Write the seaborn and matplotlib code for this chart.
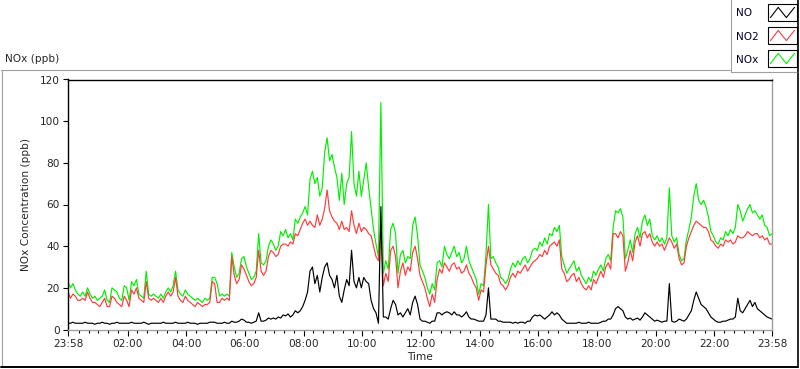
import numpy as np
import pandas as pd
import matplotlib
matplotlib.use("Agg")
import matplotlib.pyplot as plt
import seaborn as sns

# ---------------- data (5-minute samples) ----------------
# minutes after midnight; first sample is 23:58 of the previous day (-2)
minutes = np.arange(-2, 1439, 5)

no = [
    3, 3, 3.5, 3, 3, 3, 3, 3.5, 3, 3, 3, 2.5,
    3, 3, 3.5, 3, 3, 2.5, 3, 3, 3.5, 3, 3, 3,
    3, 3, 3.5, 3, 3, 3, 3, 3.5, 3, 2.5, 3, 3,
    3, 3, 3, 3.5, 3, 3, 3, 3, 3.5, 3, 3, 3,
    3, 3.5, 3, 3, 3, 2.5, 3, 3, 3, 3, 3.5, 3.5,
    3.5, 3, 3, 3, 3.5, 3, 3, 4, 3.5, 3.5, 4, 5,
    4.5, 3.5, 3.5, 3, 3.5, 4, 8, 4, 4, 4.5, 5.5, 5,
    5.5, 5, 6, 5.5, 7, 6.5, 7.5, 6, 7, 9, 8, 9,
    11, 14, 18, 28, 30, 22, 26, 18, 25, 30, 32, 26,
    24, 20, 26, 16, 13, 19, 24, 21, 38, 23, 20, 25,
    20, 25, 23, 22, 14, 10, 8, 3, 59, 6, 6, 5,
    10, 14, 12, 7, 8, 6, 8, 10, 7, 13, 16, 12,
    5, 4, 4, 3.5, 3, 4, 4, 8, 8, 7, 8, 8.5,
    8, 7, 8.5, 7, 7, 6, 7, 8.5, 6, 5, 5, 4.5,
    4, 4, 4, 7, 20, 5, 5, 5, 4, 4, 3.5, 3.5,
    3.5, 3.5, 3, 3.5, 3, 3.5, 3.5, 3, 4, 4, 6, 7,
    6.5, 7, 6, 5, 6, 7, 8.5, 7, 8, 7, 5, 4,
    3, 3, 3, 3, 3, 3.5, 3, 3, 3, 3.5, 3, 3,
    3, 3, 3.5, 4, 4, 5, 5, 7, 10, 11, 10, 9,
    6, 5, 5.5, 4.5, 5, 5.5, 4.5, 6, 8, 7, 6, 5,
    4, 4.5, 4, 3.5, 4, 4, 22, 4, 3.5, 4, 5, 4.5,
    4, 5, 7, 9, 14, 18, 15, 12, 11, 10, 8, 6,
    5, 4, 3.5, 3.5, 4, 4, 4.5, 5, 5, 6, 15, 9,
    8, 10, 12, 14, 11, 13, 10, 9, 8, 7, 6, 5.5,
    5,
]

no2 = [
    18, 15, 17, 16, 14, 14, 15, 14, 18, 15, 13, 13,
    12, 11, 13, 15, 11, 11, 16, 15, 13, 12, 11, 16,
    14, 11, 19, 17, 20, 15, 14, 13, 23, 15, 14, 15,
    14, 13, 15, 13, 16, 18, 16, 18, 25, 16, 14, 13,
    16, 14, 13, 12, 11, 13, 12, 11, 12, 12, 13, 23,
    22, 13, 13, 15, 14, 15, 14, 35, 26, 22, 24, 31,
    29, 26, 23, 21, 22, 25, 38, 28, 26, 28, 35, 38,
    37, 35, 36, 40, 41, 41, 40, 42, 41, 46, 45, 48,
    51, 53, 50, 52, 50, 49, 55, 50, 53, 58, 67, 57,
    54, 52, 51, 48, 52, 48, 49, 47, 57, 50, 46, 51,
    47, 49, 48, 46, 45, 40, 35, 33, 50, 21, 27, 23,
    38, 40, 35, 20, 28, 32, 26, 30, 28, 37, 40, 34,
    26, 23, 20, 15, 11, 17, 13, 24, 29, 27, 32, 30,
    28, 31, 32, 29, 30, 27, 28, 31, 27, 25, 22, 20,
    14, 19, 18, 31, 40, 31, 29, 27, 26, 22, 21, 19,
    21, 25, 27, 25, 28, 27, 29, 31, 28, 30, 32, 33,
    34, 36, 35, 38, 36, 40, 41, 42, 40, 43, 29, 27,
    23, 24, 26, 27, 23, 25, 22, 20, 19, 21, 19, 24,
    22, 25, 28, 25, 30, 32, 29, 46, 46, 44, 47, 45,
    28, 32, 38, 33, 42, 45, 40, 46, 47, 44, 46, 42,
    40, 42, 40, 41, 38, 41, 44, 42, 39, 41, 34, 31,
    32, 40, 44, 47, 50, 52, 51, 50, 49, 49, 47, 43,
    42, 40, 39, 41, 40, 43, 42, 43, 41, 42, 45, 44,
    44, 45, 47, 46, 45, 46, 46, 44, 45, 43, 44, 41,
    41,
]

nox = [
    23, 20, 22, 19, 17, 16, 18, 16, 20, 17, 15, 16,
    14, 15, 16, 19, 14, 13, 20, 19, 18, 15, 14, 21,
    20, 14, 23, 21, 24, 17, 16, 15, 28, 17, 16, 17,
    16, 15, 17, 15, 18, 20, 18, 21, 28, 19, 17, 16,
    19, 17, 16, 15, 14, 15, 14, 13, 15, 14, 15, 25,
    25, 22, 16, 17, 16, 17, 16, 37, 30, 25, 27, 34,
    35, 30, 27, 24, 25, 28, 46, 32, 31, 33, 40, 43,
    41, 38, 40, 47, 45, 48, 44, 46, 43, 53, 51, 54,
    56, 59, 55, 72, 76, 70, 73, 64, 68, 85, 92, 81,
    84, 78, 73, 62, 75, 60, 70, 73, 95, 70, 64, 76,
    64, 72, 80, 68, 58, 48, 41, 35, 109, 27, 33, 29,
    48, 51, 46, 27, 36, 38, 32, 35, 34, 50, 54, 45,
    31, 28, 25, 20, 17, 22, 19, 32, 33, 30, 40, 36,
    34, 37, 40, 35, 37, 32, 34, 40, 33, 30, 27, 24,
    17, 22, 21, 36, 60, 34, 35, 32, 30, 25, 24, 22,
    24, 29, 32, 30, 33, 31, 34, 35, 32, 34, 38, 39,
    38, 42, 40, 44, 41, 46, 45, 49, 47, 50, 35, 31,
    27, 29, 31, 33, 28, 30, 26, 24, 22, 25, 23, 28,
    26, 29, 31, 28, 34, 36, 33, 49, 57, 56, 58, 54,
    34, 38, 43, 37, 46, 49, 44, 52, 55, 50, 53, 45,
    43, 45, 42, 44, 41, 44, 68, 45, 42, 44, 36, 33,
    34, 43, 48, 54, 64, 70, 62, 60, 62, 59, 54, 47,
    45, 42, 41, 44, 43, 47, 45, 48, 46, 49, 60, 57,
    52, 55, 58, 60, 56, 57, 55, 53, 55, 50, 49, 45,
    46,
]

series_names = ["NO", "NO2", "NOx"]
series_colors = {"NO": "#000000", "NO2": "#FF3B3B", "NOx": "#00F000"}

major_ticks = [-2, 120, 240, 360, 480, 600, 720, 840, 960, 1080, 1200, 1320, 1438]
major_labels = ["23:58", "02:00", "04:00", "06:00", "08:00", "10:00", "12:00",
                "14:00", "16:00", "18:00", "20:00", "22:00", "23:58"]
y_ticks = [0, 20, 40, 60, 80, 100, 120]

# ---------------- build long-form table ----------------
df = pd.concat([
    pd.DataFrame({"t": minutes, "value": no, "series": "NO"}),
    pd.DataFrame({"t": minutes, "value": no2, "series": "NO2"}),
    pd.DataFrame({"t": minutes, "value": nox, "series": "NOx"}),
], ignore_index=True)

sns.set_style("white")
plt.rcParams["font.family"] = ["DejaVu Sans"]
plt.rcParams["font.size"] = 7.6

W, H = 800, 369
fig = plt.figure(figsize=(W / 100, H / 100), dpi=100)
fig.patch.set_facecolor("white")

ax = fig.add_axes([68 / W, 1 - 329.5 / H, (772 - 68) / W, (329.5 - 79.5) / H])
ax.set_facecolor("white")

sns.lineplot(data=df, x="t", y="value", hue="series",
             hue_order=["NOx", "NO2", "NO"], palette=series_colors,
             estimator=None, sort=False, linewidth=0.85, legend=False, ax=ax)

ax.set_xlim(-2, 1438)
ax.set_ylim(0, 120)
ax.set_xticks(major_ticks)
ax.set_xticklabels(major_labels)
minor = [m for m in range(20, 1438, 20) if m % 120 != 0]
ax.set_xticks(minor, minor=True)
ax.set_yticks(y_ticks)
ax.set_yticklabels([str(v) for v in y_ticks])

ax.tick_params(axis="x", which="major", direction="out", length=4.2, width=0.8,
               color="black", pad=2.5, labelsize=7.6, bottom=True)
ax.tick_params(axis="x", which="minor", direction="out", length=2.0, width=0.8,
               color="black", bottom=True)
ax.tick_params(axis="y", which="major", direction="out", length=3.6, width=0.8,
               color="black", pad=2.5, labelsize=7.6, left=True)

for side in ["left", "top"]:
    ax.spines[side].set_color("black")
    ax.spines[side].set_linewidth(1.0)
for side in ["right", "bottom"]:
    ax.spines[side].set_color("#A0A0A0")
    ax.spines[side].set_linewidth(1.0)
    ax.spines[side].set_visible(True)

ax.set_xlabel("Time", fontsize=7.6, labelpad=2)
ax.set_ylabel("NOx Concentration (ppb)", fontsize=7.6, labelpad=6)
ax.grid(False)

# ---------------- frame, title and legend (pixel overlay) ----------------
ov = fig.add_axes([0, 0, 1, 1], zorder=5)
ov.set_xlim(0, W)
ov.set_ylim(H, 0)
ov.axis("off")
ov.patch.set_alpha(0)

gray = "#A0A0A0"
ov.plot([1, 730], [69.5, 69.5], color=gray, lw=0.8)
ov.plot([1.5, 1.5], [69.5, 367], color=gray, lw=0.8)
ov.plot([1, 798], [367, 367], color="black", lw=1.4)
ov.plot([798, 798], [0, 367], color="black", lw=1.2)

ov.text(5, 59, "NOx (ppb)", fontsize=7.6, ha="left", va="center")

# legend box
ov.add_patch(plt.Rectangle((730.5, 0), 68, 71.5, facecolor="white",
                           edgecolor="none", zorder=2))
ov.plot([730.5, 730.5], [0, 71.5], color=gray, lw=0.8, zorder=3)
ov.plot([730.5, 798], [71.5, 71.5], color=gray, lw=0.8, zorder=3)
ov.plot([798, 798], [0, 72], color="black", lw=1.2, zorder=3)

rows = [(13, 4, 21), (37, 27, 44), (60, 50, 67)]
zig = [(0.1, 0.8), (0.37, 0.2), (0.65, 0.8), (0.93, 0.2)]
for name, (ty, y0, y1) in zip(series_names, rows):
    ov.text(736, ty, name, fontsize=7.6, ha="left", va="center", color="#000033", zorder=4)
    ov.add_patch(plt.Rectangle((767.5, y0), 29, y1 - y0, facecolor="white",
                               edgecolor="black", lw=0.8, zorder=4))
    xs = [767.5 + 29 * fx for fx, fy in zig]
    ys = [y0 + (y1 - y0) * fy for fx, fy in zig]
    ov.plot(xs, ys, color=series_colors[name], lw=0.8, zorder=5)

fig.savefig("out.png", dpi=100)
